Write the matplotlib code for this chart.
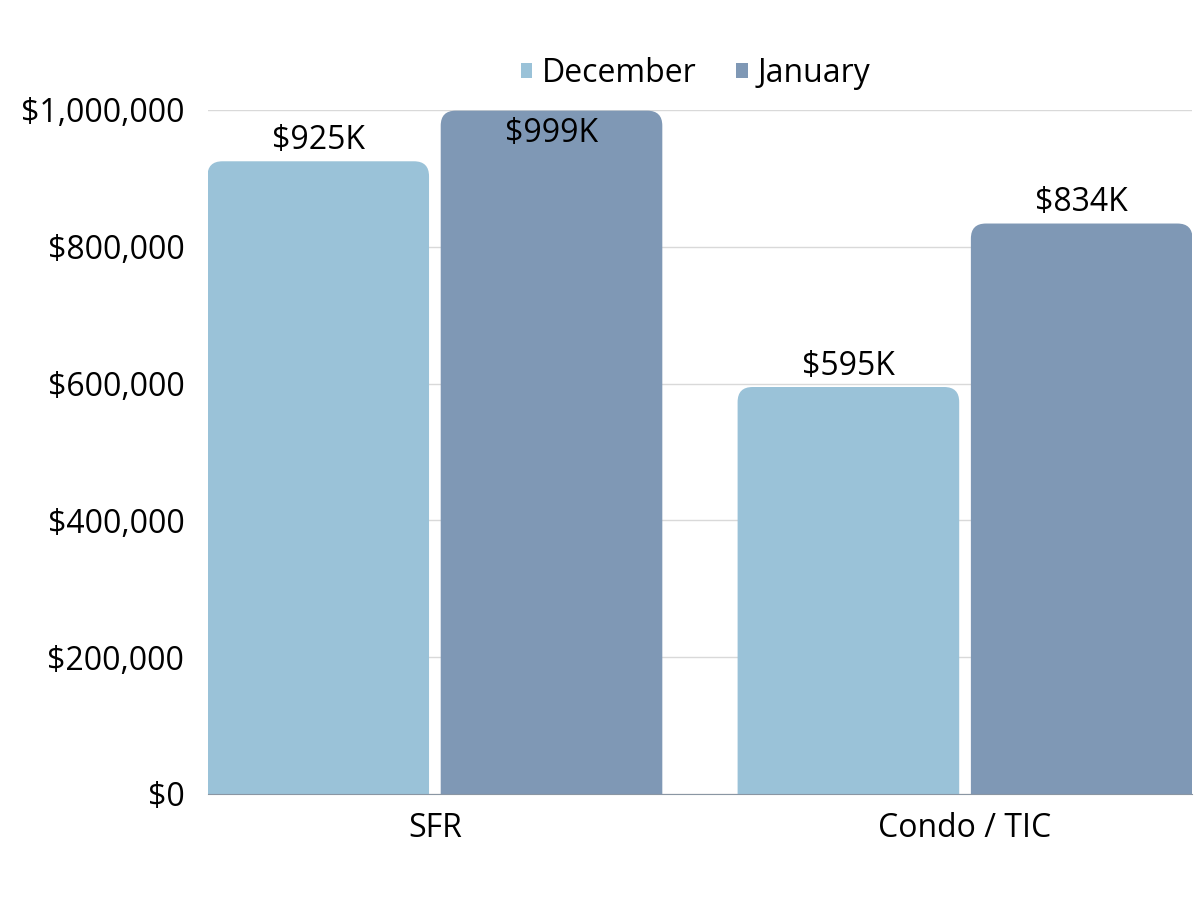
import numpy as np
import matplotlib.pyplot as plt
from matplotlib.patches import FancyBboxPatch
from matplotlib.ticker import FuncFormatter

plt.rcParams['font.family'] = ['Open Sans', 'DejaVu Sans']

categories = ['SFR', 'Condo / TIC']
december = [925000, 595000]
january = [999000, 834000]
labels_dec = ['$925K', '$595K']
labels_jan = ['$999K', '$834K']

dec_color = '#9AC2D8'
jan_color = '#7F98B5'

fig = plt.figure(figsize=(12, 9), dpi=100)
ax = fig.add_axes([0.1733, 0.1178, 0.82, 0.76])

x = np.arange(len(categories))
width = 0.418
offset = 0.22
ymax = 1000000

ax.set_xlim(-0.428, 1.428)
ax.set_ylim(0, ymax)

# rounded top corners: radius in x units, scaled for y via mutation_aspect
px_x = 1.0 / 530
px_y = ymax / 684
radius = 15 * px_x
aspect = px_y / px_x


def rounded_bars(xs, vals, color, label):
    for xi, v in zip(xs, vals):
        p = FancyBboxPatch((xi - width / 2, -40000), width, v + 40000,
                           boxstyle=f'round,pad=0,rounding_size={radius}',
                           mutation_aspect=aspect, facecolor=color,
                           edgecolor='none', zorder=2, clip_on=True)
        ax.add_patch(p)
    # proxy for legend
    ax.bar([0], [0], color=color, label=label)


rounded_bars(x - offset, december, dec_color, 'December')
rounded_bars(x + offset, january, jan_color, 'January')

for xs, vals, labs in [(x - offset, december, labels_dec), (x + offset, january, labels_jan)]:
    for xi, v, lab in zip(xs, vals, labs):
        if v > 0.95 * ymax:
            dy = -16.5
        else:
            dy = 15
        ax.annotate(lab, (xi, v), xytext=(0, dy), textcoords='offset points',
                    ha='center', va='center', fontsize=23, color='black', zorder=3)

ax.set_yticks(np.arange(0, ymax + 1, 200000))
ax.yaxis.set_major_formatter(FuncFormatter(lambda v, p: f'${v:,.0f}'))
ax.set_xticks(x)
ax.set_xticklabels(categories)
ax.tick_params(axis='both', length=0, labelsize=23, colors='black')
ax.tick_params(axis='y', pad=17)
ax.tick_params(axis='x', pad=13)

ax.grid(axis='y', color='#D9D9D9', linewidth=1, zorder=0)
ax.set_axisbelow(True)
for s in ['top', 'right', 'left']:
    ax.spines[s].set_visible(False)
ax.spines['bottom'].set_color('#8A96A3')
ax.spines['bottom'].set_zorder(4)

ax.legend(loc='center', bbox_to_anchor=(0.5796, 0.918), bbox_transform=fig.transFigure,
          ncol=2, frameon=False, fontsize=23, handlelength=0.35, handleheight=0.35,
          handletextpad=0.3, columnspacing=1.25)

fig.savefig('out.png', dpi=100)
